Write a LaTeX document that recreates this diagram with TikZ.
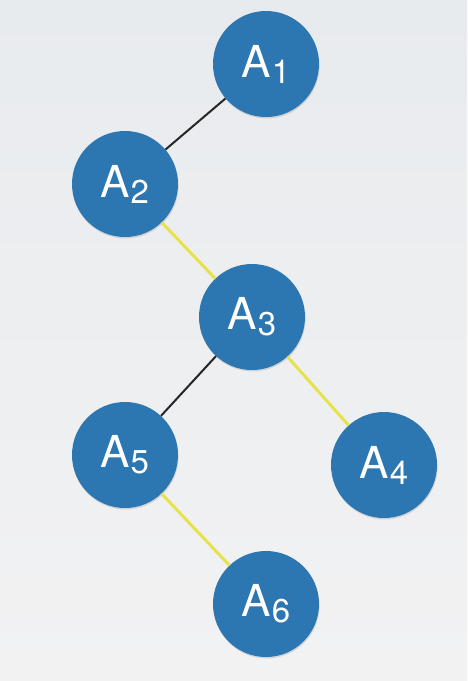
\documentclass[tikz,border=0pt]{standalone}
\usepackage{fontspec}
\setmainfont{TeX Gyre Heros}
\usepackage{tikz}
\usetikzlibrary{shadows}
\definecolor{nodeblue}{HTML}{2C76B2}
\definecolor{edgeyellow}{HTML}{E6E34A}
\definecolor{bgtop}{HTML}{E8EBEE}
\definecolor{bgbottom}{HTML}{F2F2F3}
\newcommand{\An}[1]{A\kern0.5pt\raisebox{-6pt}{\fontsize{33}{33}\selectfont #1}}

\begin{document}
\begin{tikzpicture}[x=1pt, y=-1pt,
  vert/.style={circle, fill=nodeblue, minimum size=106pt, inner sep=0pt,
               text=white, font=\fontsize{44}{44}\selectfont,
               drop shadow={opacity=0.25, shadow xshift=0.6pt, shadow yshift=-1.5pt}},
  tree/.style={draw=black!85, line width=2pt},
  heavy/.style={draw=edgeyellow, line width=3pt}]
\shade[top color=bgtop, bottom color=bgbottom] (0,0) rectangle (467,681);
\useasboundingbox (0,0) rectangle (467,681);

\node[vert] (a1) at (266,64)  {\An{1}};
\node[vert] (a2) at (125,184) {\An{2}};
\node[vert] (a3) at (252,317) {\An{3}};
\node[vert] (a5) at (125,455) {\An{5}};
\node[vert] (a4) at (384,465) {\An{4}};
\node[vert] (a6) at (266,604) {\An{6}};

\draw[tree]  (a1) -- (a2);
\draw[heavy] (a2) -- (a3);
\draw[tree]  (a3) -- (a5);
\draw[heavy] (a3) -- (a4);
\draw[heavy] (a5) -- (a6);
\end{tikzpicture}
\end{document}
